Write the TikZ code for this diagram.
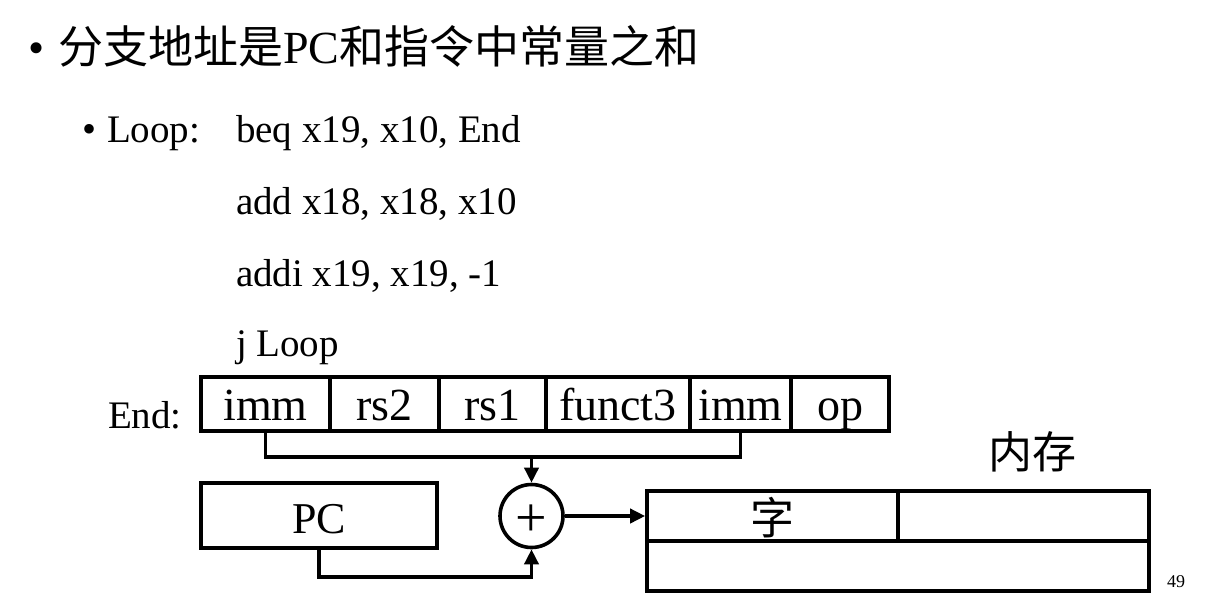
\documentclass[tikz,border=0pt]{standalone}
\usepackage{fontspec}
\setmainfont{Liberation Serif}
\newfontfamily\cjk{Noto Sans CJK SC}
\usetikzlibrary{arrows.meta}
\newcommand{\fsz}[1]{\fontsize{#1}{#1}\selectfont}
\begin{document}
\begin{tikzpicture}[x=1pt,y=-1pt,
  txt/.style={anchor=base west, inner sep=0pt, outer sep=0pt},
  box/.style={draw, line width=3.6pt, inner sep=0pt},
  field/.style={box, minimum height=54pt, text height=32pt, text depth=0pt, font=\fsz{46}},
  wire/.style={line width=3.6pt},
  arrow/.style={wire, -{Triangle[length=15pt,width=14pt]}}
]
\useasboundingbox (0,0) rectangle (1214,598);

% title
\node[txt, font=\fsz{46}] (b1) at (28,63) {•};
\node[txt, font=\fsz{45}] (title) at (58,63) {{\cjk 分支地址是}{\fsz{46}PC}{\cjk 和指令中常量之和}};

% code
\node[txt, font=\fsz{40}] (b2) at (82,142) {•};
\node[txt, font=\fsz{39}] (loop) at (107,142) {Loop:};
\node[txt, font=\fsz{39}] (l1) at (236,142) {beq x19, x10, End};
\node[txt, font=\fsz{39}] (l2) at (236,214) {add x18, x18, x10};
\node[txt, font=\fsz{39}] (l3) at (236,286) {addi x19, x19, -1};
\node[txt, font=\fsz{39}] (l4) at (236,356) {j Loop};

% instruction format
\node[txt, font=\fsz{39}] (endl) at (108,428) {End:};
\node[field, minimum width=129pt] (f1) at (265.5,404) {imm};
\node[field, minimum width=109pt] (f2) at (384.5,404) {rs2};
\node[field, minimum width=107pt] (f3) at (492.5,404) {rs1};
\node[field, minimum width=144pt] (f4) at (618,404) {funct3};
\node[field, minimum width=101pt] (f5) at (740.5,404) {imm};
\node[field, minimum width=98pt] (f6) at (840,404) {op};

% PC and adder
\node[box, minimum width=236pt, minimum height=65pt, text height=35pt, text depth=0pt, font=\fsz{44}] (pc) at (319,515.5) {PC};
\node[circle, draw, line width=3.6pt, minimum size=63pt, inner sep=0pt, font=\fsz{56}, text height=41pt, text depth=0pt] (add) at (531.5,516) {+};

% memory
\node[font={\cjk\fsz{44}}] (nc) at (1032,452) {内存};
\node[box, minimum width=502pt, minimum height=100pt] (mem) at (898,541) {};
\node[box, minimum width=251pt, minimum height=50pt, font={\cjk\fsz{44}}, text height=36pt, text depth=0pt] (word) at (772.5,516) {字};
\node[box, minimum width=251pt, minimum height=50pt] (cell) at (1023.5,516) {};

\node[txt, font=\fsz{18}] (pg) at (1167,587) {49};

% connectors
\coordinate (mid) at (531.5,457);
\coordinate (pcj) at (319,577);
\draw[wire] (f1.south) |- (mid) -| (f5.south);
\draw[arrow] (mid) -- (add.north);
\draw[arrow] (pc.south) -- (pcj) -| (add.south);
\draw[arrow] (add.east) -- (word.west);
\end{tikzpicture}
\end{document}
